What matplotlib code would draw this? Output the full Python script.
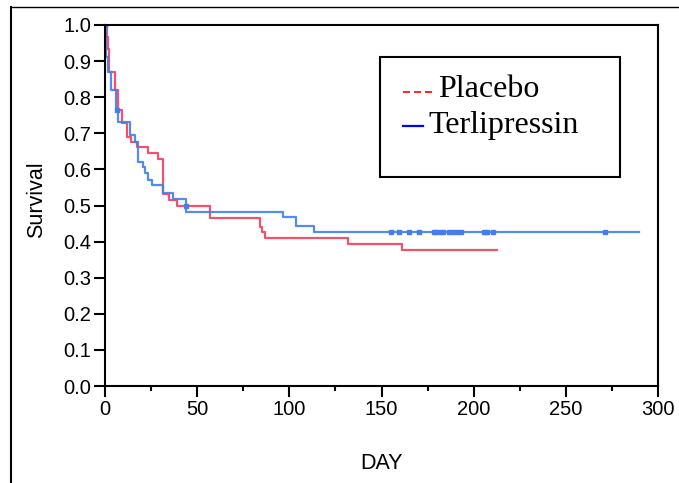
import matplotlib
matplotlib.use("Agg")
import matplotlib.pyplot as plt
from matplotlib.lines import Line2D
from matplotlib.patches import Rectangle

# Kaplan-Meier step values
placebo_days = [0, 0.9, 1.5, 2.0, 2.2, 5.4, 6.9, 9.1, 11.9, 14.1, 17.2, 23.2, 28.5,
                31.6, 34.9, 39.2, 56.9, 84.1, 85.3, 86.8, 131.6, 161.2, 212.4]
placebo_surv = [1.0, 0.967, 0.933, 0.909, 0.871, 0.820, 0.765, 0.729, 0.690, 0.676, 0.663,
                0.645, 0.629, 0.532, 0.515, 0.499, 0.466, 0.441, 0.427, 0.411, 0.393,
                0.377, 0.377]

terli_days = [0, 0.3, 1.8, 3.3, 5.8, 6.9, 13.6, 16.3, 18.1, 20.8, 21.7, 23.5, 25.3,
              31.6, 36.7, 43.9, 96.7, 103.6, 113.3, 289.7]
terli_surv = [1.0, 0.912, 0.871, 0.820, 0.765, 0.732, 0.695, 0.677, 0.621, 0.607, 0.590,
              0.571, 0.557, 0.534, 0.517, 0.483, 0.467, 0.444, 0.427, 0.427]

# censored observations (Terlipressin)
censor_days = [0, 6.4, 43.9, 154.9, 159.3, 164.7, 170.1, 178.4, 179.7, 181.7, 183.1,
               186.4, 188.6, 190.7, 192.9, 205.5, 207.0, 210.3, 271.3]
censor_surv = [1.0, 0.765, 0.499] + [0.427] * 16

RED = "#f0405c"
BLUE = "#3f80ea"

fig = plt.figure(figsize=(6.79, 4.83), dpi=100)
ax = fig.add_axes([105 / 679, 1 - 386 / 483, 553 / 679, 361 / 483])

ax.step(placebo_days, placebo_surv, where="post", color=RED, lw=1.6, alpha=0.9)
ax.step(terli_days, terli_surv, where="post", color=BLUE, lw=1.6, alpha=0.9)
ax.plot(censor_days, censor_surv, ls="none", marker="s", ms=3, color=BLUE)

ax.set_xlim(0, 300)
ax.set_ylim(0, 1.0)
ax.set_xticks(range(0, 301, 50))
ax.set_xticks(range(25, 300, 50), minor=True)
ax.set_yticks([i / 10 for i in range(11)])
ax.set_yticklabels([f"{i / 10:.1f}" for i in range(11)])

for s in ax.spines.values():
    s.set_linewidth(1.5)
ax.tick_params(which="major", direction="out", length=8, width=1.5,
               labelsize=14.5, pad=2)
ax.tick_params(which="minor", direction="out", length=3.8, width=1.5)
for lab in ax.get_xticklabels() + ax.get_yticklabels():
    lab.set_fontfamily("Liberation Sans")

ax.set_xlabel("DAY", fontsize=15.5, fontfamily="Liberation Sans")
ax.xaxis.set_label_coords(0.5, -0.185)
ax.set_ylabel("Survival", fontsize=15.5, fontfamily="Liberation Sans")
ax.yaxis.set_label_coords(-0.104, 0.515)

# legend box drawn by hand (handles have different lengths in the original)
ax.add_patch(Rectangle((0.497, 0.579), 0.434, 0.332, transform=ax.transAxes,
                       fill=False, lw=1.5, ec="black", zorder=5))
ax.plot([0.539, 0.596], [0.815, 0.815], transform=ax.transAxes, color="red",
        ls=(0, (4.2, 2.4)), lw=1.2, zorder=5)
ax.plot([0.539, 0.575], [0.720, 0.720], transform=ax.transAxes, color="blue",
        lw=1.6, zorder=5)
ax.text(0.602, 0.801, "Placebo", transform=ax.transAxes, fontsize=23,
        fontfamily="Liberation Serif", va="baseline", ha="left", zorder=6)
ax.text(0.584, 0.701, "Terlipressin", transform=ax.transAxes, fontsize=23,
        fontfamily="Liberation Serif", va="baseline", ha="left", zorder=6)

# outer frame: top and left only
fig.add_artist(Line2D([11 / 679, 1], [1 - 7 / 483, 1 - 7 / 483], color="black", lw=1))
fig.add_artist(Line2D([11 / 679, 11 / 679], [0, 1 - 7 / 483], color="black", lw=1.5))

fig.savefig("out.png", dpi=100)
